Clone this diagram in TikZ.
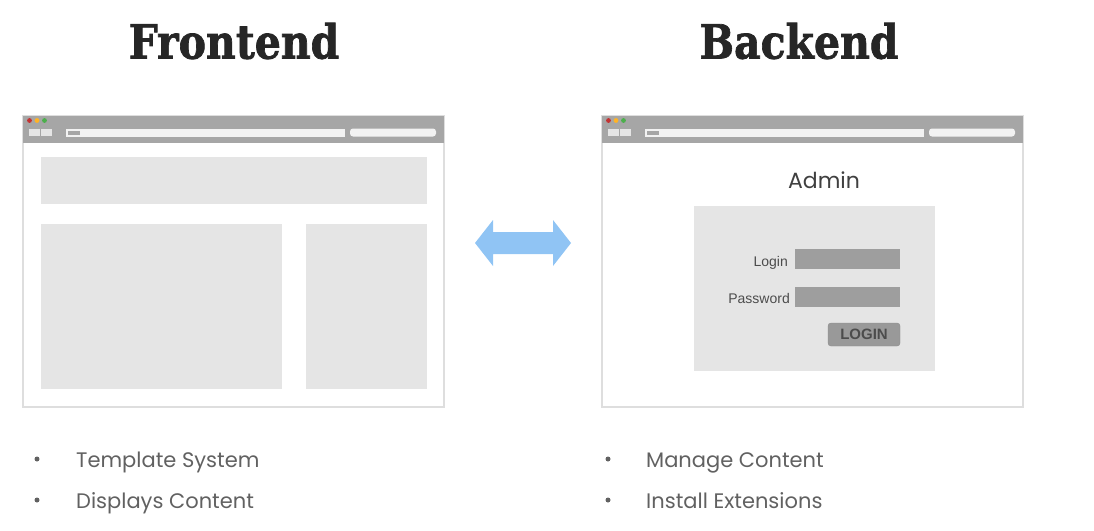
\documentclass[tikz,border=0pt]{standalone}
\usepackage{fontspec}
\font\titlefnt="DejaVu Serif/B:embolden=1.6" at 41pt
\newfontfamily\bodyfont{Poppins}
\newfontfamily\formfont{Liberation Sans}
\definecolor{arrowblue}{RGB}{144,196,244}
\begin{document}
\begin{tikzpicture}[x=1pt,y=-1pt,
  frame/.style={draw=black!13,line width=1.2pt,fill=white},
  topbar/.style={fill=black!35},
  block/.style={fill=black!10},
  field/.style={fill=black!38},
  title/.style={font=\titlefnt,text=black!85,yscale=1.15},
  item/.style={font=\bodyfont\fontsize{21}{21}\selectfont,text=black!62,anchor=base west,inner sep=0},
  bullet/.style={circle,fill=black!62,inner sep=0,minimum size=5pt},
  formlabel/.style={font=\formfont\fontsize{14}{14}\selectfont,text=black!70,anchor=east,inner sep=0}]
\useasboundingbox (0,0) rectangle (1094,530);

% headings
\node[title] (tfront) at (234,41) {Frontend};
\node[title] (tback) at (799,41) {Backend};

% browser window chrome, drawn twice
\foreach \ox/\nm in {0/front,579/back}{
  \begin{scope}[shift={(\ox,0)}]
    \path[frame] (23,116) rectangle (444,407);
    \path[topbar] (23,116) rectangle (444,143);
    \fill[red!70!black!80] (29.5,120.5) circle (2.4);
    \fill[orange!70!yellow!85] (37,120.5) circle (2.4);
    \fill[green!55!black!70] (44.5,120.5) circle (2.4);
    \fill[white!90!black] (29,129) rectangle (40,136);
    \fill[white!90!black] (41,129) rectangle (52,136);
    \fill[white!95!black] (66,128.5) rectangle (345,136.5);
    \fill[black!35] (68,130.5) rectangle (80,134.5);
    \fill[white!95!black,rounded corners=3pt] (350,128.5) rectangle (436,136.5);
  \end{scope}
}

% frontend page layout
\path[block] (41,157) rectangle (427,204);
\path[block] (41,224) rectangle (282,389);
\path[block] (306,224) rectangle (427,389);

% backend login form
\node[font=\bodyfont\fontsize{22}{22}\selectfont,text=black!75] (admin) at (824,180) {Admin};
\path[block] (694,206) rectangle (935,371);
\path[field] (795,249) rectangle (900,269);
\path[field] (795,287) rectangle (900,307);
\node[formlabel] (llogin) at (788,263) {Login};
\node[formlabel] (lpass) at (790,298) {Password};
\node[fill=black!40,draw=black!45,rounded corners=3pt,minimum width=72pt,minimum height=23pt,inner sep=0,
  font=\formfont\bfseries\fontsize{15}{15}\selectfont,text=black!70] (btn) at (864,334.5) {LOGIN};

% two-way arrow between the windows
\fill[arrowblue] (475,243) -- (493,220) -- (493,232) -- (553,232) -- (553,220)
  -- (571,243) -- (553,266) -- (553,254) -- (493,254) -- (493,266) -- cycle;

% bullet lists
\node[bullet] (b1) at (37,459) {};
\node[bullet] (b2) at (37,500) {};
\node[item] (i1) at (76,467) {Template System};
\node[item] (i2) at (76,508) {Displays Content};
\node[bullet] (b3) at (608,459) {};
\node[bullet] (b4) at (608,500) {};
\node[item] (i3) at (646,467) {Manage Content};
\node[item] (i4) at (646,508) {Install Extensions};
\end{tikzpicture}
\end{document}
